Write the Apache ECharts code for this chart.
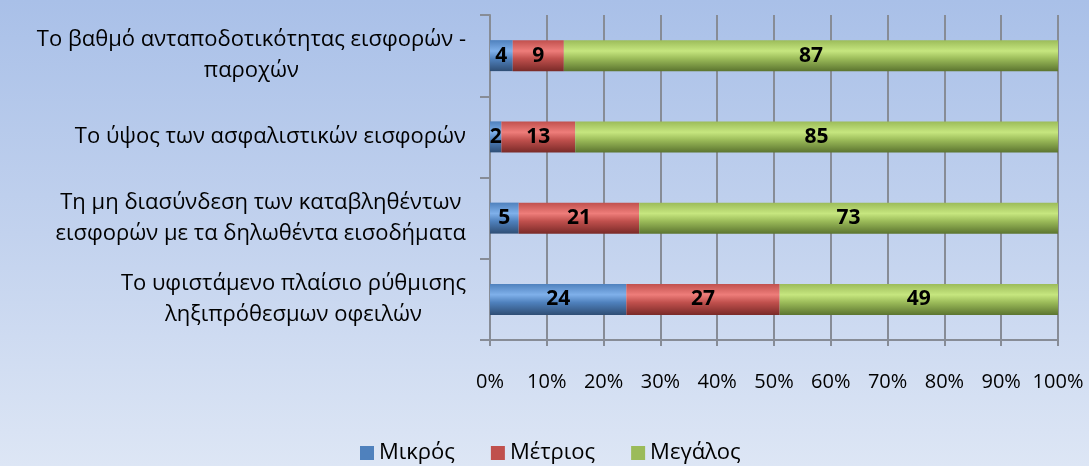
<!DOCTYPE html>
<html>
<head>
<meta charset="utf-8">
<script src="https://cdn.jsdelivr.net/npm/echarts@6/dist/echarts.min.js"></script>
<style>
  html, body { margin: 0; padding: 0; }
  #chart {
    width: 1089px;
    height: 466px;
    background: linear-gradient(to bottom, #a9c0e8 0%, #c2d2ee 50%, #dde6f5 100%);
  }
</style>
</head>
<body>
<div id="chart"></div>
<script>
// κατηγορίες (από πάνω προς τα κάτω)
const categories = [
  "Το βαθμό ανταποδοτικότητας εισφορών -\nπαροχών",
  "Το ύψος των ασφαλιστικών εισφορών",
  "Τη μη διασύνδεση των καταβληθέντων\nεισφορών με τα δηλωθέντα εισοδήματα",
  "Το υφιστάμενο πλαίσιο ρύθμισης\nληξιπρόθεσμων οφειλών"
];
const seriesNames = ["Μικρός", "Μέτριος", "Μεγάλος"];
const mikros = [4, 2, 5, 24];
const metrios = [9, 13, 21, 27];
const megalos = [87, 85, 73, 49];
const xTicks = ["0%", "10%", "20%", "30%", "40%", "50%", "60%", "70%", "80%", "90%", "100%"];

const colors = ["#4f81bd", "#c0504d", "#9bbb59"];
const lightColors = ["#7fb0ea", "#ee7d7a", "#c6e67f"];
const darkColors = ["#2f4e75", "#7a2a28", "#5c7530"];

// 100% stacked: κανονικοποίηση ανά κατηγορία
const raw = [mikros, metrios, megalos];
const totals = categories.map((c, i) => mikros[i] + metrios[i] + megalos[i]);

const barGradient = (k) => new echarts.graphic.LinearGradient(0, 0, 0, 1, [
  { offset: 0, color: colors[k] },
  { offset: 0.35, color: lightColors[k] },
  { offset: 0.6, color: colors[k] },
  { offset: 1, color: darkColors[k] }
]);

const chart = echarts.init(document.getElementById("chart"));

const series = raw.map((arr, k) => ({
  name: seriesNames[k],
  type: "bar",
  stack: "total",
  barWidth: 31,
  data: arr.map((v, i) => ({ value: (v / totals[i]) * 100, raw: v })),
  itemStyle: { color: barGradient(k) },
  label: {
    show: true,
    position: "inside",
    formatter: (p) => p.data.raw,
    color: "#000",
    fontSize: 21,
    fontWeight: "bold",
    fontFamily: "Open Sans"
  }
}));

chart.setOption({
  animation: false,
  color: colors,
  grid: { left: 490, right: 31, top: 15, bottom: 126 },
  legend: {
    bottom: -3,
    left: 355,
    itemWidth: 14,
    itemHeight: 14,
    itemGap: 36,
    icon: "rect",
    textStyle: { fontSize: 22, color: "#000", fontFamily: "Open Sans" },
    data: seriesNames.map((n, k) => ({ name: n, itemStyle: { color: colors[k] } }))
  },
  xAxis: {
    type: "value",
    min: 0,
    max: 100,
    interval: 10,
    axisLine: { show: true, lineStyle: { color: "#878c96", width: 2 } },
    axisTick: { show: true, length: 6, lineStyle: { color: "#878c96", width: 2 } },
    splitLine: { show: true, lineStyle: { color: "#878c96", width: 2 } },
    axisLabel: {
      margin: 32,
      fontSize: 20,
      color: "#000",
      fontFamily: "Open Sans",
      formatter: (v) => xTicks[Math.round(v / 10)]
    }
  },
  yAxis: {
    type: "category",
    inverse: true,
    data: categories,
    axisLine: { show: true, lineStyle: { color: "#878c96", width: 2 } },
    axisTick: { show: true, length: 10, lineStyle: { color: "#878c96", width: 2 } },
    axisLabel: {
      margin: 24,
      color: "#000",
      align: "right",
      formatter: (v) => v.split("\n").map((l) => "{c|" + l + "}").join("\n"),
      rich: {
        c: {
          align: "center",
          fontSize: 22,
          lineHeight: 31,
          color: "#000",
          fontFamily: "Open Sans"
        }
      }
    }
  },
  series: series
});
</script>
</body>
</html>
